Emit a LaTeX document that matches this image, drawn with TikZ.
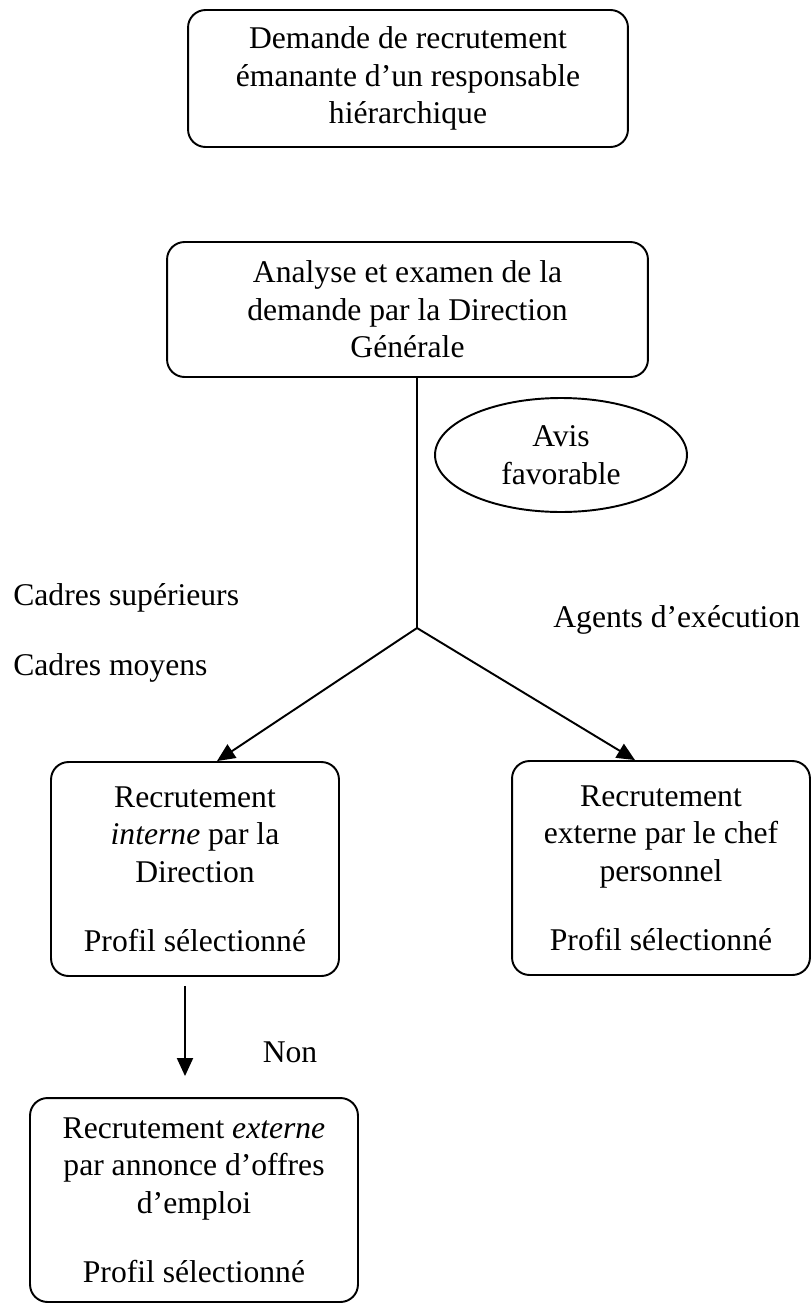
\documentclass[tikz,border=0pt]{standalone}
\usepackage{fontspec}
\setmainfont{Liberation Serif}
\usetikzlibrary{arrows.meta,positioning,shapes.geometric}

\begin{document}
\begin{tikzpicture}[x=0.02cm, y=-0.02cm, auto,
        font=\fontsize{18}{21.3}\selectfont,
        rbox/.style={rectangle, rounded corners=0.35cm, draw, line width=1.1pt, align=center, inner sep=0pt},
        arr/.style={-{Triangle[length=0.36cm,width=0.32cm]}, line width=1.1pt}]
        \useasboundingbox (0,0) rectangle (811,1312);

        \node (demande) [
            rbox,
            minimum width=8.8cm,
            minimum height=2.74cm
        ] at (408,78.5)
        {Demande de recrutement\\ émanante d’un responsable\\ hiérarchique};

        \node (analyse) [
            rbox,
            minimum width=9.62cm,
            minimum height=2.7cm
        ] at (407.5,309.5)
        {Analyse et examen de la\\ demande par la Direction\\ Générale};

        \node (avis) [
            ellipse,
            draw,
            line width=1.1pt,
            align=center,
            inner sep=0pt,
            minimum width=5.04cm,
            minimum height=2.28cm
        ] at (561,455)
        {Avis\\ favorable};

        \node (superieurs) [anchor=west, inner sep=0pt] at (13,598) {Cadres supérieurs};
        \node (moyens) [anchor=west, inner sep=0pt] at (13,668) {Cadres moyens};
        \node (agents) [anchor=west, inner sep=0pt] at (553,620) {Agents d’exécution};

        \node (interne) [
            rbox,
            minimum width=5.76cm,
            minimum height=4.28cm
        ] at (195,869)
        {Recrutement\\ \textit{interne} par la\\ Direction\\[18pt] Profil sélectionné};

        \node (externe) [
            rbox,
            minimum width=5.96cm,
            minimum height=4.28cm
        ] at (661,868)
        {Recrutement\\ externe par le chef\\ personnel\\[18pt] Profil sélectionné};

        \node (annonce) [
            rbox,
            minimum width=6.56cm,
            minimum height=4.08cm
        ] at (194,1200)
        {Recrutement \textit{externe}\\ par annonce d’offres\\ d’emploi\\[18pt] Profil sélectionné};

        \node (non) at (290,1052) {Non};

        \coordinate (fork) at (417,628);
        \draw[line width=1.1pt] (fork |- analyse.south) -- (fork);
        \draw[arr] (fork) -- ([xshift=0.44cm]interne.north);
        \draw[arr] (fork) -- ([xshift=-0.52cm]externe.north);
        \draw[arr, shorten <=0.18cm, shorten >=0.42cm] ([xshift=-0.2cm]interne.south) -- ([xshift=-0.2cm]interne.south |- annonce.north);
    \end{tikzpicture}
\end{document}
